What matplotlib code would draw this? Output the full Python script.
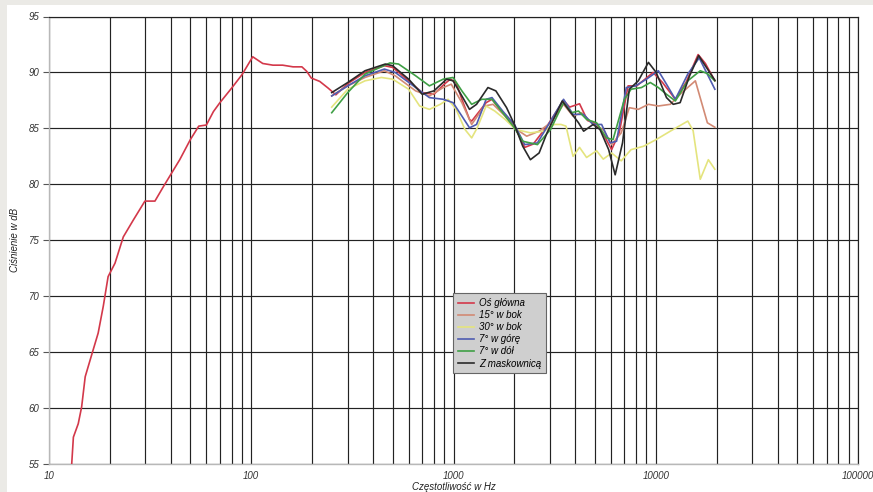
import matplotlib
matplotlib.use("Agg")
import matplotlib.pyplot as plt
from matplotlib.patches import Rectangle
from matplotlib.ticker import FixedLocator, NullFormatter

plt.rcParams['font.family'] = ['Liberation Sans', 'DejaVu Sans']

# ---- data (frequency in Hz, level in dB) ----
f_main = [12.95, 13.2, 13.95, 14.5, 15.1, 16.25, 17.5, 18.55, 19.6, 21.2, 23.3, 26.1, 29.8, 33.4,
          36.8, 44.3, 50, 55, 60, 65, 70, 80, 90, 101.7, 114, 128, 143, 161, 178, 188, 198, 218,
          240, 262, 300, 365, 455, 500, 600, 700, 800, 900, 965, 1030, 1100, 1200, 1230, 1450,
          1550, 1750, 2000, 2250, 2480, 2900, 3500, 3750, 4200, 4600, 5100, 5500, 6050, 6600,
          7300, 8050, 8850, 9700, 10800, 12500, 14100, 16200, 17600, 19600]
db_main = [55, 57.4, 58.6, 60.1, 62.8, 64.75, 66.7, 69.1, 71.75, 72.95, 75.3, 76.8, 78.5, 78.5,
           79.8, 82.2, 84.0, 85.2, 85.3, 86.5, 87.3, 88.6, 89.8, 91.4, 90.8, 90.65, 90.65, 90.5,
           90.5, 90.1, 89.5, 89.2, 88.6, 88.0, 89.0, 90.0, 90.6, 90.45, 89.25, 88.2, 88.05, 88.95,
           89.4, 89.1, 87.6, 85.8, 85.65, 87.3, 87.6, 86.4, 85.2, 83.3, 83.6, 85.2, 87.5, 86.9,
           87.2, 85.7, 85.4, 84.5, 83.1, 84.6, 88.8, 88.8, 89.4, 90.0, 89.1, 87.6, 89.1, 91.6,
           90.8, 89.25]

f_15 = [250, 300, 365, 455, 515, 650, 760, 890, 975, 1100, 1230, 1420, 1570, 1800, 2000, 2300,
        2650, 3020, 3500, 3900, 4300, 4900, 5500, 6050, 6750, 7400, 8200, 9200, 10300, 11800,
        13200, 14700, 15700, 18000, 19600]
db_15 = [87.9, 88.8, 89.55, 90.15, 89.7, 88.35, 87.9, 88.65, 88.95, 87.3, 85.35, 87.0, 87.15,
         86.1, 85.05, 84.3, 84.75, 85.5, 87.15, 86.1, 86.4, 85.35, 84.9, 83.55, 84.6, 86.85,
         86.7, 87.15, 87.0, 87.15, 88.05, 88.8, 89.25, 85.5, 85.1]

f_30 = [250, 300, 365, 440, 500, 600, 680, 760, 860, 940, 1030, 1140, 1230, 1310, 1450, 1600,
        1800, 2030, 2400, 2800, 3150, 3400, 3600, 3900, 4200, 4550, 5100, 5500, 6050, 6750,
        7550, 8700, 10050, 11800, 14400, 15300, 16600, 18200, 19600]
db_30 = [86.9, 88.5, 89.25, 89.55, 89.4, 88.5, 87.0, 86.7, 87.15, 87.6, 86.7, 84.9, 84.15,
         85.05, 87.0, 86.55, 85.8, 84.9, 84.6, 84.75, 85.35, 85.35, 85.2, 82.5, 83.3, 82.4,
         83.0, 82.25, 82.8, 82.1, 83.1, 83.4, 84.0, 84.75, 85.65, 84.8, 80.45, 82.2, 81.35]

f_up = [250, 300, 365, 455, 515, 650, 760, 890, 995, 1100, 1200, 1300, 1450, 1550, 1750, 2000,
        2250, 2600, 3020, 3500, 3900, 4400, 4900, 5400, 5950, 6400, 7150, 7950, 9000, 10300,
        11300, 12500, 14400, 16400, 19600]
db_up = [87.9, 88.8, 89.7, 90.3, 90.0, 88.65, 87.75, 87.6, 87.3, 86.1, 85.05, 85.35, 87.6,
         87.75, 86.55, 85.35, 83.55, 83.7, 85.65, 87.6, 86.25, 86.25, 85.35, 85.35, 83.7, 83.85,
         88.65, 88.8, 89.4, 90.15, 88.95, 87.6, 89.85, 91.3, 88.5]

f_down = [250, 300, 365, 485, 535, 650, 760, 890, 995, 1100, 1230, 1380, 1550, 1750, 2000, 2200,
          2600, 3020, 3500, 3830, 4150, 4550, 5100, 5700, 6150, 7000, 7550, 8500, 9400, 10300,
          11300, 12500, 14400, 16600, 18000, 19600]
db_down = [86.4, 88.2, 89.85, 90.85, 90.75, 89.7, 88.8, 89.4, 89.55, 88.35, 87.15, 87.6, 87.6,
           86.4, 85.05, 83.85, 83.55, 84.9, 87.3, 86.4, 86.55, 85.8, 85.5, 84.15, 84.0, 87.6,
           88.5, 88.65, 89.1, 88.65, 88.05, 87.45, 89.25, 90.15, 89.9, 89.25]

f_grill = [250, 300, 365, 460, 500, 600, 700, 800, 925, 995, 1100, 1200, 1300, 1480, 1620, 1830,
           2000, 2200, 2400, 2650, 2900, 3450, 3750, 4150, 4400, 4900, 5300, 5850, 6300, 6850,
           7400, 8200, 9200, 10050, 11300, 12200, 13200, 14700, 16300, 19600]
db_grill = [88.2, 89.1, 90.15, 90.75, 90.6, 89.4, 88.05, 88.35, 89.4, 89.25, 87.9, 86.7, 87.15,
            88.65, 88.35, 86.85, 85.35, 83.4, 82.2, 82.8, 84.6, 87.45, 86.55, 85.5, 84.75, 85.35,
            84.9, 83.1, 80.85, 83.7, 88.5, 89.25, 90.9, 90.0, 87.75, 87.15, 87.3, 89.7, 91.5, 89.3]

labels = ["Oś główna", "15° w bok", "30° w bok", "7° w górę", "7° w dół", "Z maskownicą"]
colors = ["#d3384a", "#d28a74", "#e4e47e", "#4f5cb0", "#3f9f45", "#2a2a2a"]

x_ticks = [10, 100, 1000, 10000, 100000]
y_ticks = [55, 60, 65, 70, 75, 80, 85, 90, 95]

# ---- figure ----
fig = plt.figure(figsize=(8.73, 4.92), dpi=100, facecolor="#ebeae6")
bg = Rectangle((7 / 873, 0), 1, (492 - 5) / 492, transform=fig.transFigure,
               facecolor="white", edgecolor="none", zorder=-10)
fig.add_artist(bg)
ax = fig.add_axes([49 / 873, 28 / 492, 809 / 873, 447.5 / 492])
ax.set_zorder(1)
ax.set_facecolor("white")
ax.set_xscale("log")
ax.set_xlim(10, 100000)
ax.set_ylim(55, 95)

# grid
minor = [m * 10 ** e for e in range(1, 5) for m in range(2, 10)]
ax.xaxis.set_major_locator(FixedLocator(x_ticks))
ax.xaxis.set_minor_locator(FixedLocator(minor))
ax.xaxis.set_minor_formatter(NullFormatter())
ax.set_xticklabels([str(t) for t in x_ticks])
ax.set_yticks(y_ticks)
ax.grid(True, which="both", axis="x", color="#222222", linewidth=0.85)
ax.grid(True, which="major", axis="y", color="#222222", linewidth=0.85)
ax.set_axisbelow(True)

for s in ["left", "bottom"]:
    ax.spines[s].set_color("#b8b8b8")
    ax.spines[s].set_linewidth(1.0)
ax.spines["top"].set_color("#222222")
ax.spines["top"].set_linewidth(0.85)
ax.spines["right"].set_color("#222222")
ax.spines["right"].set_linewidth(0.85)

ax.tick_params(axis="x", which="both", length=0, pad=5, labelsize=7, labelcolor="#333333")
ax.tick_params(axis="y", which="major", length=4, width=0.8, color="#555555", pad=3,
               labelsize=7, labelcolor="#333333")
for lab in ax.get_xticklabels() + ax.get_yticklabels():
    lab.set_fontstyle("italic")

series = [(f_main, db_main), (f_15, db_15), (f_30, db_30), (f_up, db_up),
          (f_down, db_down), (f_grill, db_grill)]
order = [2, 1, 4, 3, 5, 0]
lines = {}
for i in order:
    fx, dy = series[i]
    lines[i], = ax.plot(fx, dy, color=colors[i], linewidth=1.2, label=labels[i], zorder=3 + i)

ax.set_xlabel("Częstotliwość w Hz", fontsize=7, fontstyle="italic", color="#222222", labelpad=1)
ax.set_ylabel("Ciśnienie w dB", fontsize=7, fontstyle="italic", color="#222222", labelpad=6)

leg = ax.legend([lines[i] for i in range(6)], labels, loc="upper left",
                bbox_to_anchor=(0.4994, 0.382), frameon=True, fancybox=False,
                prop={"style": "italic", "size": 7}, handlelength=1.7, handletextpad=0.5,
                labelspacing=0.22, borderpad=0.5, borderaxespad=0)
leg.get_frame().set_facecolor("#cfcfcf")
leg.get_frame().set_edgecolor("#666666")
leg.get_frame().set_alpha(1)
leg.get_frame().set_linewidth(0.8)

fig.savefig("out.png", dpi=100, facecolor=fig.get_facecolor())
